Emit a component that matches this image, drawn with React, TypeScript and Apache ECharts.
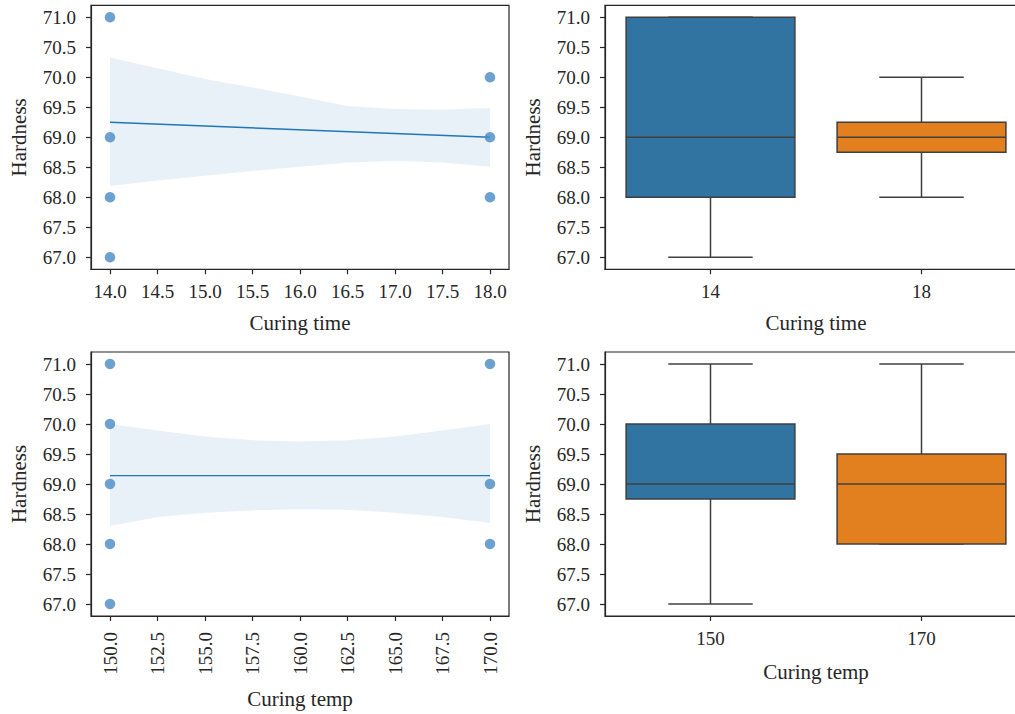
import React, { useEffect, useRef } from "react";
import * as echarts from "echarts";

// ---------- data ----------
const yTicks = [67, 67.5, 68, 68.5, 69, 69.5, 70, 70.5, 71];

const timeTicks = [14, 14.5, 15, 15.5, 16, 16.5, 17, 17.5, 18];
const timeScatterX = [14, 14, 14, 14, 18, 18, 18];
const timeScatterY = [71, 69, 68, 67, 70, 69, 68];
const timeFitX = [14, 18];
const timeFitY = [69.25, 69.0];
const timeBandX = [14, 14.5, 15, 15.5, 16, 16.5, 17, 17.5, 18];
const timeBandUpper = [70.33, 70.15, 69.97, 69.83, 69.68, 69.52, 69.47, 69.46, 69.49];
const timeBandLower = [68.19, 68.28, 68.36, 68.44, 68.51, 68.58, 68.61, 68.58, 68.51];

const tempTicks = [150, 152.5, 155, 157.5, 160, 162.5, 165, 167.5, 170];
const tempScatterX = [150, 150, 150, 150, 150, 170, 170, 170];
const tempScatterY = [71, 70, 69, 68, 67, 71, 69, 68];
const tempFitX = [150, 170];
const tempFitY = [69.14, 69.14];
const tempBandX = [150, 152.5, 155, 157.5, 160, 162.5, 165, 167.5, 170];
const tempBandUpper = [70.0, 69.89, 69.79, 69.73, 69.71, 69.73, 69.79, 69.89, 70.0];
const tempBandLower = [68.3, 68.45, 68.52, 68.56, 68.58, 68.57, 68.52, 68.45, 68.35];

const timeCategories = ["14", "18"];
// [min, Q1, median, Q3, max]
const timeBoxStats = [
  [67, 68, 69, 71, 71],
  [68, 68.75, 69, 69.25, 70],
];
const tempCategories = ["150", "170"];
const tempBoxStats = [
  [67, 68.75, 69, 70, 71],
  [68, 68, 69, 69.5, 71],
];

// ---------- styles ----------
const FONT = "'Liberation Serif', 'Times New Roman', serif";
const TEXT = "#262626";
const FRAME = "#262626";
const BOX_COLORS = ["#3274a1", "#e2801f"];
const BOX_LINE = "#3f3f3f";
const BLUE = "#1f77b4";
const POINT = "#4889c3";

const zip = (xs: number[], ys: number[]) => xs.map((x, i) => [x, ys[i]]);

function yAxis(gridIndex: number) {
  return {
    type: "value",
    gridIndex,
    min: 66.8,
    max: 71.2,
    name: "Hardness",
    nameLocation: "middle",
    nameGap: 62,
    nameRotate: 90,
    nameTextStyle: { fontFamily: FONT, fontSize: 21, color: TEXT },
    splitLine: { show: false },
    axisLine: { show: true, lineStyle: { color: FRAME, width: 1.2 } },
    axisTick: { show: true, length: 5, customValues: yTicks, lineStyle: { color: FRAME, width: 1.2 } },
    axisLabel: {
      customValues: yTicks,
      formatter: (v: number) => v.toFixed(1),
      margin: 15,
      fontFamily: FONT,
      fontSize: 19,
      color: TEXT,
    },
  };
}

function valueXAxis(gridIndex: number, min: number, max: number, ticks: number[], name: string, rotate: number, nameGap: number) {
  return {
    type: "value",
    gridIndex,
    min,
    max,
    name,
    nameLocation: "middle",
    nameGap,
    nameTextStyle: { fontFamily: FONT, fontSize: 21, color: TEXT },
    splitLine: { show: false },
    axisLine: { show: true, onZero: false, lineStyle: { color: FRAME, width: 1.2 } },
    axisTick: { show: true, length: 5, customValues: ticks, lineStyle: { color: FRAME, width: 1.2 } },
    axisLabel: {
      customValues: ticks,
      formatter: (v: number) => v.toFixed(1),
      margin: rotate ? 16 : 13,
      rotate,
      fontFamily: FONT,
      fontSize: 19,
      color: TEXT,
    },
  };
}

function catXAxis(gridIndex: number, data: string[], name: string, nameGap: number) {
  return {
    type: "category",
    gridIndex,
    data,
    boundaryGap: true,
    name,
    nameLocation: "middle",
    nameGap,
    nameTextStyle: { fontFamily: FONT, fontSize: 21, color: TEXT },
    splitLine: { show: false },
    axisLine: { show: true, onZero: false, lineStyle: { color: FRAME, width: 1.2 } },
    axisTick: { show: true, length: 5, alignWithLabel: true, lineStyle: { color: FRAME, width: 1.2 } },
    axisLabel: { margin: 13, fontFamily: FONT, fontSize: 19, color: TEXT },
  };
}

function bandSeries(idx: number, xs: number[], up: number[], lo: number[]) {
  return {
    type: "custom",
    xAxisIndex: idx,
    yAxisIndex: idx,
    silent: true,
    z: 1,
    data: [[xs[0], up[0]]],
    renderItem: (_p: any, api: any) => {
      const pts: number[][] = [];
      for (let i = 0; i < xs.length; i++) pts.push(api.coord([xs[i], up[i]]));
      for (let i = xs.length - 1; i >= 0; i--) pts.push(api.coord([xs[i], lo[i]]));
      return {
        type: "polygon",
        shape: { points: pts },
        style: { fill: "rgba(31,119,180,0.1)", stroke: "none" },
      };
    },
  };
}

function fitSeries(idx: number, xs: number[], ys: number[]) {
  return {
    type: "line",
    xAxisIndex: idx,
    yAxisIndex: idx,
    data: zip(xs, ys),
    showSymbol: false,
    symbol: "none",
    silent: true,
    z: 2,
    lineStyle: { color: BLUE, width: 1.4 },
  };
}

function scatterSeries(idx: number, xs: number[], ys: number[]) {
  return {
    type: "scatter",
    xAxisIndex: idx,
    yAxisIndex: idx,
    data: zip(xs, ys),
    symbolSize: 10.5,
    z: 3,
    itemStyle: { color: POINT },
  };
}

function boxSeries(idx: number, stats: number[][]) {
  return {
    type: "custom",
    xAxisIndex: idx,
    yAxisIndex: idx,
    silent: true,
    z: 2,
    data: stats.map((s, i) => [i, ...s]),
    renderItem: (params: any, api: any) => {
      const i = api.value(0);
      const mn = api.value(1);
      const q1 = api.value(2);
      const md = api.value(3);
      const q3 = api.value(4);
      const mx = api.value(5);
      const band = api.size([1, 0])[0];
      const w = band * 0.8;
      const cx = api.coord([i, md])[0];
      const y = (v: number) => api.coord([i, v])[1];
      const lineStyle = { stroke: BOX_LINE, lineWidth: 1.5 };
      const color = BOX_COLORS[params.dataIndex % BOX_COLORS.length];
      return {
        type: "group",
        children: [
          { type: "line", shape: { x1: cx, y1: y(q3), x2: cx, y2: y(mx) }, style: lineStyle },
          { type: "line", shape: { x1: cx, y1: y(q1), x2: cx, y2: y(mn) }, style: lineStyle },
          { type: "line", shape: { x1: cx - w / 4, y1: y(mx), x2: cx + w / 4, y2: y(mx) }, style: lineStyle },
          { type: "line", shape: { x1: cx - w / 4, y1: y(mn), x2: cx + w / 4, y2: y(mn) }, style: lineStyle },
          {
            type: "rect",
            shape: { x: cx - w / 2, y: y(q3), width: w, height: y(q1) - y(q3) },
            style: { fill: color, stroke: BOX_LINE, lineWidth: 1.5 },
          },
          { type: "line", shape: { x1: cx - w / 2, y1: y(md), x2: cx + w / 2, y2: y(md) }, style: lineStyle },
        ],
      };
    },
  };
}

export default function App() {
  const ref = useRef<HTMLDivElement>(null);
  useEffect(() => {
    if (!ref.current) return;
    const chart = echarts.init(ref.current, undefined, { renderer: "svg" });
    const gridBase = { show: true, borderColor: FRAME, borderWidth: 1.2, backgroundColor: "transparent", containLabel: false };
    chart.setOption({
      animation: false,
      backgroundColor: "#ffffff",
      grid: [
        { ...gridBase, left: 91, top: 5.3, width: 418, height: 264 },
        { ...gridBase, left: 605, top: 5.3, width: 422, height: 264 },
        { ...gridBase, left: 91, top: 352, width: 418, height: 264 },
        { ...gridBase, left: 605, top: 352, width: 422, height: 264 },
      ],
      xAxis: [
        valueXAxis(0, 13.8, 18.2, timeTicks, "Curing time", 0, 43),
        catXAxis(1, timeCategories, "Curing time", 43),
        valueXAxis(2, 149, 171, tempTicks, "Curing temp", 90, 72),
        catXAxis(3, tempCategories, "Curing temp", 45),
      ],
      yAxis: [yAxis(0), yAxis(1), yAxis(2), yAxis(3)],
      series: [
        bandSeries(0, timeBandX, timeBandUpper, timeBandLower),
        fitSeries(0, timeFitX, timeFitY),
        scatterSeries(0, timeScatterX, timeScatterY),
        boxSeries(1, timeBoxStats),
        bandSeries(2, tempBandX, tempBandUpper, tempBandLower),
        fitSeries(2, tempFitX, tempFitY),
        scatterSeries(2, tempScatterX, tempScatterY),
        boxSeries(3, tempBoxStats),
      ],
    });
    return () => chart.dispose();
  }, []);
  return (
    <div
      style={{ position: "absolute", left: 0, top: 0, width: 1015, height: 714, overflow: "hidden", background: "#fff" }}
    >
      <div ref={ref} style={{ position: "absolute", left: 0, top: 0, width: 1040, height: 714 }} />
    </div>
  );
}
